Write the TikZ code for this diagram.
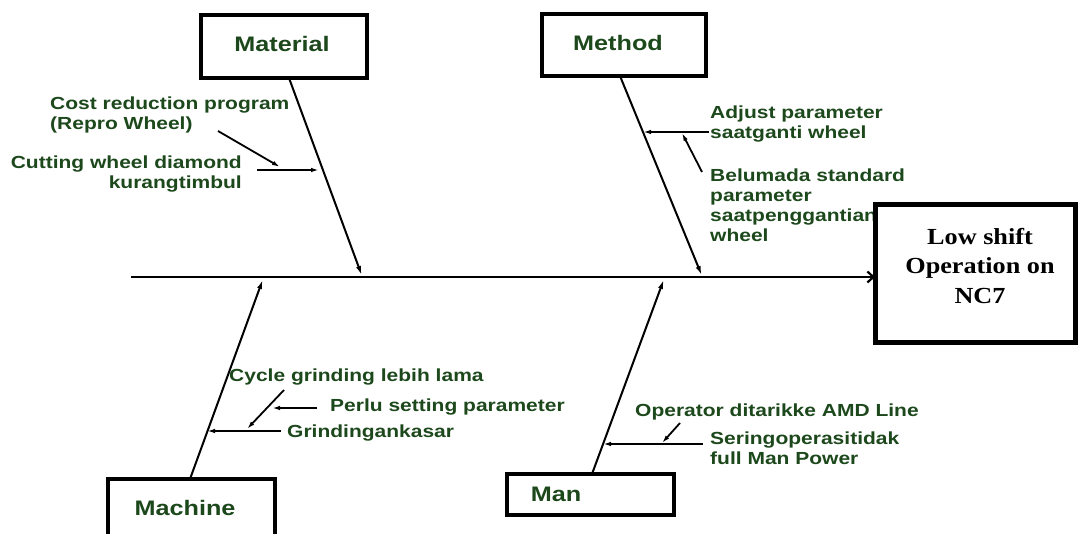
\documentclass[tikz,border=0pt]{standalone}
\usepackage{fontspec}
\usetikzlibrary{arrows.meta}
\newfontfamily\labfont{Liberation Sans}[FakeStretch=1.2]
\newfontfamily\effectfont{Liberation Serif}[FakeStretch=1.14]
\definecolor{labgreen}{RGB}{28,72,28}
\tikzset{
  catbox/.style={draw, line width=3.2pt, fill=white},
  catlabel/.style={inner sep=0pt, text=labgreen, font=\labfont\bfseries\fontsize{21}{25}\selectfont},
  causelabel/.style={inner sep=0pt, text=labgreen, font=\labfont\bfseries\fontsize{17.5}{20}\selectfont},
  bone/.style={line width=2pt, -{Latex[length=10pt,width=5pt]}},
  twig/.style={line width=1.8pt, -{Latex[length=8pt,width=4.5pt]}},
  spine/.style={line width=2.2pt, -{Straight Barb[length=6pt,width=11pt]}},
  effectbox/.style={draw, line width=5pt, fill=white, minimum width=200pt, minimum height=138pt, inner sep=0pt},
  effectlabel/.style={inner sep=0pt, align=center, font=\effectfont\bfseries\fontsize{23}{29.5}\selectfont}
}
\begin{document}
\begin{tikzpicture}[x=1pt, y=-1pt]
\useasboundingbox (0,0) rectangle (1078,534);

% category boxes
\node[catbox, minimum width=166pt, minimum height=63pt] (matbox) at (284,46.5) {};
\node[catlabel] (mat) at (282,44) {Material};
\node[catbox, minimum width=164pt, minimum height=62pt] (methbox) at (624,45) {};
\node[catlabel] (meth) at (618,43) {Method};
\node[catbox, minimum width=167pt, minimum height=41pt] (manbox) at (590.5,494.5) {};
\node[catlabel] (man) at (556,494) {Man};
\node[catbox, minimum width=167pt, minimum height=70pt] (machbox) at (191.5,514) {};
\node[catlabel] (mach) at (185,508) {Machine};

% points on the spine and along the bones
\coordinate (tail) at (131,277);
\coordinate (head) at (875,277);
\coordinate (matTop) at (289,78);
\coordinate (matEnd) at (362,276);
\coordinate (methTop) at (620,76);
\coordinate (methEnd) at (702,276);
\coordinate (machBot) at (190,479);
\coordinate (machEnd) at (263,279);
\coordinate (manBot) at (592,474);
\coordinate (manEnd) at (664,279);

% cause texts
\node[causelabel, anchor=west, align=left] (cost) at (50,114.5) {Cost reduction program\\(Repro Wheel)};
\node[causelabel, anchor=east, align=right] (cut) at (242,174) {Cutting wheel diamond\\kurangtimbul};
\node[causelabel, anchor=west, align=left] (adj) at (710,124.5) {Adjust parameter\\saatganti wheel};
\node[causelabel, anchor=west, align=left] (belum) at (710,205) {Belumada standard\\parameter\\saatpenggantian\\wheel};
\node[causelabel, anchor=west] (cycle) at (229,377) {Cycle grinding lebih lama};
\node[causelabel, anchor=west] (perlu) at (330,407) {Perlu setting parameter};
\node[causelabel, anchor=west] (grind) at (287,433) {Grindingankasar};
\node[causelabel, anchor=west] (oper) at (635,412) {Operator ditarikke AMD Line};
\node[causelabel, anchor=west, align=left] (sering) at (710,448) {Seringoperasitidak\\full Man Power};

% twig anchor points
\coordinate (costS) at (218,131);
\coordinate (costE) at (280,167);
\coordinate (cutS) at (257,170);
\coordinate (cutE) at (319,170);
\coordinate (adjS) at (709,132);
\coordinate (adjE) at (643,132);
\coordinate (belS) at (702,172);
\coordinate (belE) at (682,133);
\coordinate (grS) at (281,431);
\coordinate (grE) at (207,431);
\coordinate (cyS) at (284,390);
\coordinate (cyE) at (247,429);
\coordinate (peS) at (317,408);
\coordinate (peE) at (272,408);
\coordinate (seS) at (703,444);
\coordinate (seE) at (603,444);
\coordinate (opS) at (680,423);
\coordinate (opE) at (662,443);

% spine and bones
\draw[spine] (tail) -- (head);
\draw[bone] (matTop) -- (matEnd);
\draw[bone] (methTop) -- (methEnd);
\draw[bone] (machBot) -- (machEnd);
\draw[bone] (manBot) -- (manEnd);

% twigs
\draw[twig] (costS) -- (costE);
\draw[twig] (cutS) -- (cutE);
\draw[twig] (adjS) -- (adjE);
\draw[twig] (belS) -- (belE);
\draw[twig] (grS) -- (grE);
\draw[twig] (cyS) -- (cyE);
\draw[twig] (peS) -- (peE);
\draw[twig] (seS) -- (seE);
\draw[twig] (opS) -- (opE);

% effect box
\node[effectbox] (effect) at (975.5,273.5) {};
\node[effectlabel] (effecttxt) at (980,266) {Low shift\\Operation on\\NC7};
\end{tikzpicture}
\end{document}
